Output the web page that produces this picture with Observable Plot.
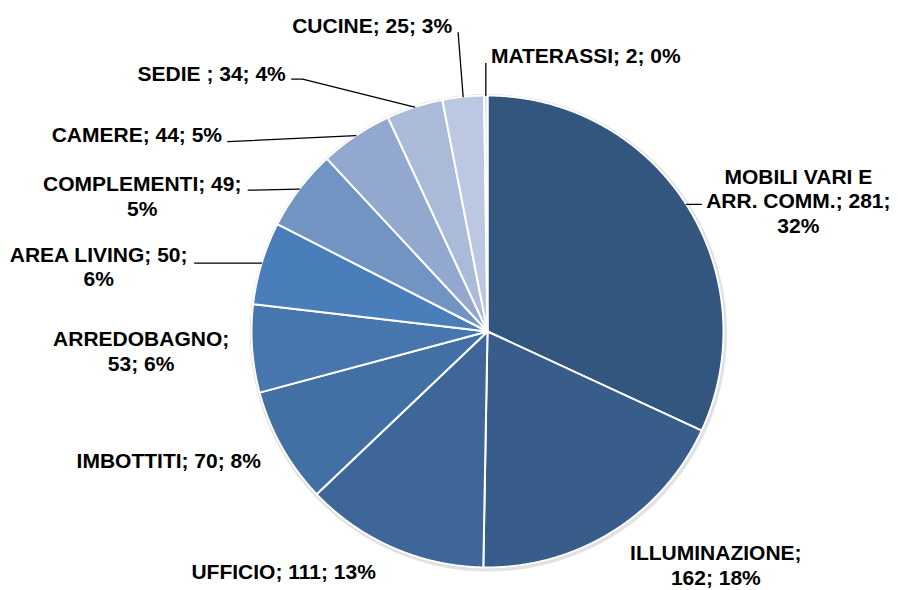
<!DOCTYPE html>
<html>
<head>
<meta charset="utf-8">
<script src="https://cdn.jsdelivr.net/npm/d3@7"></script>
<script src="https://cdn.jsdelivr.net/npm/@observablehq/plot@0.6"></script>
<style>
  html, body { margin: 0; padding: 0; background: #ffffff; }
  #chart { width: 898px; height: 590px; }
</style>
</head>
<body>
<div id="chart"></div>
<script>
// ---- data ----
const categories = ["MOBILI VARI E ARR. COMM.", "ILLUMINAZIONE", "UFFICIO", "IMBOTTITI", "ARREDOBAGNO", "AREA LIVING", "COMPLEMENTI", "CAMERE", "SEDIE ", "CUCINE", "MATERASSI"];
const values = [281, 162, 111, 70, 53, 50, 49, 44, 34, 25, 2];
const percents = [32, 18, 13, 8, 6, 6, 5, 5, 4, 3, 0];

// ---- styles ----
const palette = ["#32567e", "#395d8b", "#3e6699", "#4270a4", "#4676ad", "#4a7eba", "#7294c3", "#93a8cf", "#aabbd9", "#bcc8e2", "#d4dcee"];

// ---- layout ----
const W = 898, H = 590;
const CX = 487, CY = 331, R = 236;
// label centre offset from the slice's outer mid-point
const labelOffset = [[112, -4], [103, 33], [-109, 23], [-113, 13], [-111, 2], [-163, 3], [-157, 6], [-219, -2], [-203, -34], [-91, -72], [100, -40]];
// leader line vertices offset from the slice's outer mid-point
const leaderPath = [[[15, 0]], null, null, null, null, [[-67, 0]], [[-51, 1]], [[-128, 6]], [[-112, -28], [-123, -28]], [[-5, -64]], [[0, -32]]];
// words per line of each label
const wrap = [[3, 3, 1], [1, 2], null, null, [1, 2], [3, 1], [2, 1], null, null, null, null];

// ---- build ----
const arcs = d3.pie().sort(null).value(d => d)(values);
const slicePts = [];
const leaderPts = [];
const labels = [];
arcs.forEach((a, i) => {
  const cat = categories[i];
  slicePts.push({cat, color: palette[i], x: 0, y: 0});
  const n = Math.max(2, Math.ceil((a.endAngle - a.startAngle) / 0.004));
  for (let k = 0; k <= n; k++) {
    const t = a.startAngle + (a.endAngle - a.startAngle) * k / n;
    slicePts.push({cat, color: palette[i], x: R * Math.sin(t), y: -R * Math.cos(t)});
  }
  slicePts.push({cat, color: palette[i], x: 0, y: 0});

  const m = (a.startAngle + a.endAngle) / 2;
  const ex = R * Math.sin(m), ey = -R * Math.cos(m);
  if (leaderPath[i]) {
    leaderPts.push({cat, x: ex, y: ey});
    leaderPath[i].forEach(([dx, dy]) => leaderPts.push({cat, x: ex + dx, y: ey + dy}));
  }
  const text = `${cat}; ${values[i]}; ${percents[i]}%`;
  let lines = [text];
  if (wrap[i]) {
    const words = text.split(" ");
    lines = [];
    let p = 0;
    wrap[i].forEach(c => { lines.push(words.slice(p, p + c).join(" ")); p += c; });
  }
  labels.push({x: ex + labelOffset[i][0], y: ey + labelOffset[i][1], text: lines.join("\n")});
});

const chart = Plot.plot({
  width: W,
  height: H,
  margin: 0,
  x: {domain: [-CX, W - CX], range: [0, W], axis: null},
  y: {domain: [-CY, H - CY], range: [0, H], axis: null},
  color: {type: "identity"},
  style: {background: "#ffffff", fontFamily: "'Liberation Sans', Arial, sans-serif"},
  marks: [
    Plot.dot([{x: 0, y: 0}], {x: "x", y: "y", r: R + 2.5, dx: 1, dy: 1.5, fill: "#e2e2e2", stroke: "none"}),
    Plot.dot([{x: 0, y: 0}], {x: "x", y: "y", r: R + 1.2, fill: "#cfcfcf", stroke: "none"}),
    Plot.line(slicePts, {x: "x", y: "y", z: "cat", fill: "color", stroke: "#ffffff", strokeWidth: 2, strokeLinejoin: "round", curve: "linear"}),
    Plot.line(leaderPts, {x: "x", y: "y", z: "cat", stroke: "#000000", strokeWidth: 1.3, curve: "linear"}),
    Plot.text(labels, {x: "x", y: "y", text: "text", fontSize: 21, fontWeight: "bold", fill: "#000000", textAnchor: "middle", lineAnchor: "middle", lineHeight: 1.18, fontFamily: "'Liberation Sans', Arial, sans-serif"})
  ]
});
document.getElementById("chart").appendChild(chart);
</script>
</body>
</html>
